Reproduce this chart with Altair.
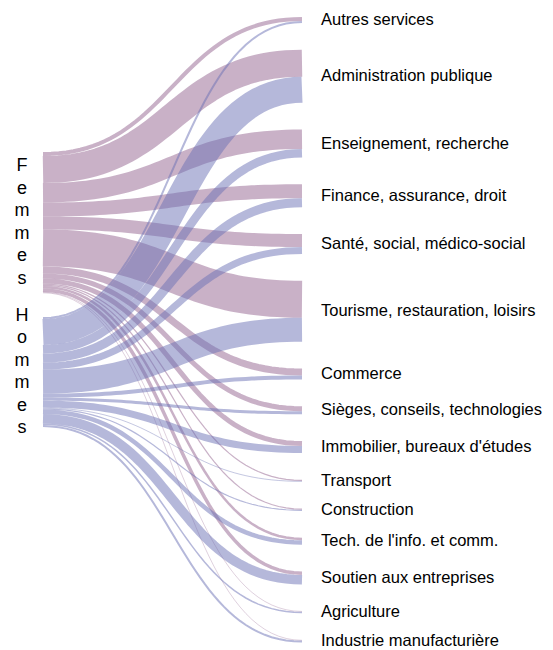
import altair as alt
import pandas as pd
import numpy as np

# ---- data ----
sectors = [
    "Autres services",
    "Administration publique",
    "Enseignement, recherche",
    "Finance, assurance, droit",
    "Santé, social, médico-social",
    "Tourisme, restauration, loisirs",
    "Commerce",
    "Sièges, conseils, technologies",
    "Immobilier, bureaux d'études",
    "Transport",
    "Construction",
    "Tech. de l'info. et comm.",
    "Soutien aux entreprises",
    "Agriculture",
    "Industrie manufacturière",
]
femmes = [4, 27, 19.5, 14, 13, 37, 7, 5, 5, 1.2, 1.2, 2.5, 3.5, 0.6, 0.6]
hommes = [2, 26, 8.5, 9, 7, 24, 4, 3, 7, 0.8, 1.2, 4.5, 9.5, 1.5, 2]
genders = ["Femmes", "Hommes"]
gender_colors = ["#93638f", "#6b72b5"]

# ---- layout parameters ----
node_pad = 26.75     # gap between sector nodes (value units)
left_offset = 135.0  # top of the "Femmes" node
left_gap = 24.0      # gap between the two gender nodes
n_steps = 48
letter_step = 22.5

values = {"Femmes": femmes, "Hommes": hommes}
totals = [f + h for f, h in zip(femmes, hommes)]
extent = sum(totals) + node_pad * (len(sectors) - 1)

# target node tops
tops = []
acc = 0.0
for t in totals:
    tops.append(acc)
    acc += t + node_pad

# source node tops
src_top = {"Femmes": left_offset, "Hommes": left_offset + sum(femmes) + left_gap}

rows = []
src_cursor = dict(src_top)
tgt_cursor = list(tops)
ts = np.linspace(0, 1, n_steps)
for gi, g in enumerate(genders):
    for si, s in enumerate(sectors):
        v = values[g][si]
        if v <= 0:
            continue
        y0 = src_cursor[g] + v / 2
        src_cursor[g] += v
        y1 = tgt_cursor[si] + v / 2
        tgt_cursor[si] += v
        for k, t in enumerate(ts):
            xx = 1.5 * t * (1 - t) + t ** 3
            yy = y0 + (y1 - y0) * (3 * t ** 2 - 2 * t ** 3)
            rows.append({"link": f"{g}-{si:02d}", "genre": g, "secteur": s,
                         "valeur": v, "order": k, "x": xx, "y": yy})
links_df = pd.DataFrame(rows)

labels_df = pd.DataFrame({
    "secteur": sectors,
    "x": [1.0] * len(sectors),
    "y": [tp + tt / 2 for tp, tt in zip(tops, totals)],
})

gender_df = pd.DataFrame({
    "genre": genders,
    "txt": ["\n".join(list(g)) for g in genders],
    "x": [0.0, 0.0],
    "y": [src_top["Femmes"] + sum(femmes) / 2, src_top["Hommes"] + sum(hommes) / 2],
})

xscale = alt.Scale(domain=[0, 1], range=[35, 294])
yscale = alt.Scale(domain=[0, extent], range=[9, 9 + extent])

links = alt.Chart(links_df).mark_line(opacity=0.5, strokeCap="butt", interpolate="linear").encode(
    x=alt.X("x:Q", scale=xscale, axis=None),
    y=alt.Y("y:Q", scale=yscale, axis=None),
    detail="link:N",
    order="order:Q",
    color=alt.Color("genre:N", scale=alt.Scale(domain=genders, range=gender_colors), legend=None),
    size=alt.Size("valeur:Q", scale=alt.Scale(domain=[0, extent], range=[0, extent]), legend=None),
)

labels = alt.Chart(labels_df).mark_text(
    align="left", baseline="middle", dx=19, fontSize=16.5,
    font="Liberation Sans", color="#000000",
).encode(
    x=alt.X("x:Q", scale=xscale, axis=None),
    y=alt.Y("y:Q", scale=yscale, axis=None),
    text="secteur:N",
)

gender_labels = alt.Chart(gender_df).mark_text(
    align="center", baseline="middle", dx=-21, dy=-2.5 * letter_step, fontSize=18,
    font="Liberation Sans", color="#000000", lineBreak="\n", lineHeight=letter_step,
).encode(
    x=alt.X("x:Q", scale=xscale, axis=None),
    y=alt.Y("y:Q", scale=yscale, axis=None),
    text="txt:N",
)

chart = alt.layer(links, labels, gender_labels).properties(
    width=537, height=642, padding=0, autosize="none",
).configure_view(stroke=None)

chart.save("out.html", embed_options={"renderer": "svg", "actions": False})
